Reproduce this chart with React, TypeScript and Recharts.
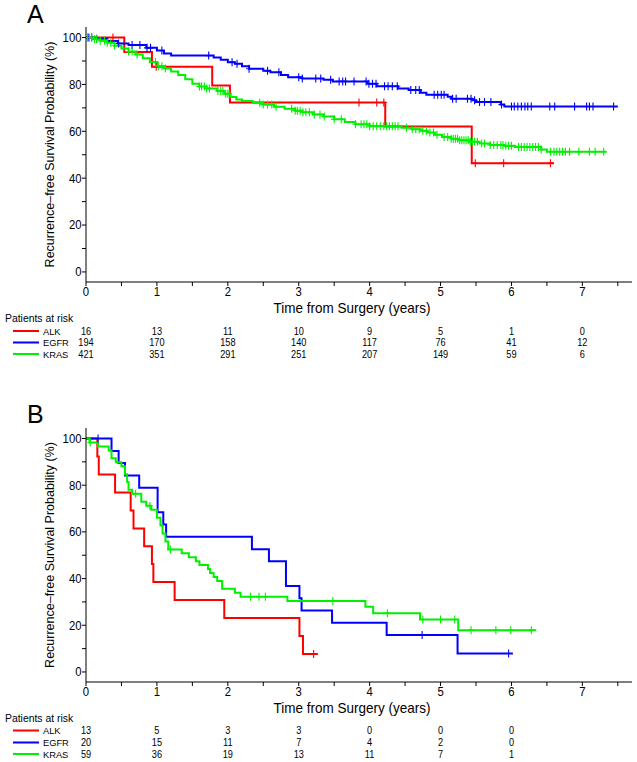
import React from 'react';
import { ComposedChart, Line, XAxis, YAxis, Customized } from 'recharts';

const RED = '#ff0000';
const BLUE = '#0000ff';
const GREEN = '#00f000';
const NARROW = "'Liberation Sans Narrow','Arial Narrow','Liberation Sans',Arial,sans-serif";
const SANS = "'Liberation Sans',Arial,Helvetica,sans-serif";

// ---------- tick labels ----------
const xTicks = [0, 0.5, 1, 1.5, 2, 2.5, 3, 3.5, 4, 4.5, 5, 5.5, 6, 6.5, 7, 7.5];
const yTicks = [0, 10, 20, 30, 40, 50, 60, 70, 80, 90, 100];
const groupNames = ['ALK', 'EGFR', 'KRAS'];

// ---------- Panel A: patients at risk (years 0..7) ----------
const alkRiskA = [16, 13, 11, 10, 9, 5, 1, 0];
const egfrRiskA = [194, 170, 158, 140, 117, 76, 41, 12];
const krasRiskA = [421, 351, 291, 251, 207, 149, 59, 6];

// ---------- Panel B: patients at risk (years 0..6) ----------
const alkRiskB = [13, 5, 3, 3, 0, 0, 0];
const egfrRiskB = [20, 15, 11, 7, 4, 2, 0];
const krasRiskB = [59, 36, 19, 13, 11, 7, 1];

// ---------- Panel A: KM steps [time, survival %] ----------
const alkStepsA: [number, number][] = [
  [0, 100], [0.54, 93.8], [0.93, 87.5], [1.78, 79.5], [2.03, 72.3], [4.22, 62.0], [5.44, 46.4], [6.6, 46.4],
];
const alkCensA = [0.38, 0.99, 3.85, 4.1, 4.2, 5.49, 5.89, 6.55];

const egfrStepsA: [number, number][] = [
  [0, 100], [0.12, 99.5], [0.3, 98.5], [0.45, 97.5], [0.6, 96.8], [0.85, 95.6], [1.0, 94.5], [1.1, 93.2],
  [1.2, 92.3], [1.8, 91.5], [1.9, 90.5], [2.0, 89.5], [2.1, 88.8], [2.2, 87.8], [2.3, 86.7], [2.5, 85.8],
  [2.6, 85.2], [2.75, 84.0], [2.85, 83.1], [3.05, 82.5], [3.35, 82.0], [3.48, 81.3], [3.97, 80.3],
  [4.1, 79.2], [4.4, 78.3], [4.55, 77.6], [4.72, 76.5], [4.8, 75.6], [5.1, 74.7], [5.15, 73.9],
  [5.45, 73.2], [5.5, 72.5], [5.85, 71.4], [5.9, 70.6], [7.5, 70.6],
];
const egfrCensA = [
  0.03, 0.08, 0.15, 0.46, 0.65, 0.76, 0.86, 0.91, 1.07, 1.73, 2.06, 2.13, 2.3, 2.56, 2.72, 3.0, 3.05,
  3.24, 3.31, 3.45, 3.57, 3.62, 3.66, 3.78, 3.95, 3.99, 4.04, 4.09, 4.21, 4.26, 4.32, 4.39, 4.58, 4.65,
  4.7, 4.91, 4.96, 5.01, 5.05, 5.17, 5.22, 5.38, 5.43, 5.48, 5.55, 5.62, 5.71, 5.86, 6.0, 6.04, 6.09,
  6.14, 6.19, 6.23, 6.28, 6.54, 6.61, 6.89, 7.06, 7.1, 7.15, 7.44,
];

const krasStepsA: [number, number][] = [
  [0, 100], [0.1, 99.4], [0.2, 98.6], [0.3, 97.8], [0.4, 96.5], [0.5, 95.3], [0.6, 94.0], [0.7, 92.8],
  [0.8, 91.2], [0.9, 89.6], [1.0, 87.8], [1.1, 86.8], [1.2, 85.5], [1.3, 84.0], [1.4, 82.2], [1.5, 80.3],
  [1.6, 79.1], [1.7, 78.3], [1.85, 77.2], [1.95, 76.0], [2.04, 74.6], [2.12, 73.6], [2.2, 72.9],
  [2.35, 72.2], [2.5, 71.4], [2.65, 70.5], [2.8, 69.6], [2.95, 68.8], [3.05, 68.1], [3.2, 67.2],
  [3.35, 66.3], [3.5, 65.1], [3.65, 64.0], [3.8, 63.0], [4.0, 62.2], [4.45, 61.5], [4.6, 60.9],
  [4.72, 60.2], [4.82, 59.5], [4.92, 58.5], [5.02, 57.6], [5.15, 56.8], [5.25, 56.2], [5.4, 55.5],
  [5.55, 54.8], [5.7, 54.2], [5.9, 53.8], [6.05, 53.3], [6.42, 52.2], [6.5, 51.3], [7.34, 51.3],
];
const krasCensA = [
  0.02, 0.05, 0.08, 0.12, 0.15, 0.2, 0.26, 0.3, 0.35, 0.4, 0.6, 0.65, 0.72, 0.98, 1.02, 1.07, 1.12,
  1.6, 1.63, 1.67, 1.7, 1.74, 1.86, 1.9, 1.93, 1.97, 2.0, 2.02, 2.45, 2.5, 2.56, 2.62, 2.68, 2.9, 2.95,
  2.98, 3.02, 3.06, 3.1, 3.15, 3.22, 3.3, 3.36, 3.5, 3.6, 3.8, 3.88, 3.92, 3.96, 4.0, 4.05, 4.1, 4.15,
  4.2, 4.24, 4.28, 4.32, 4.36, 4.4, 4.52, 4.6, 4.65, 4.7, 4.75, 4.8, 4.85, 4.9, 4.95, 5.05, 5.1, 5.15,
  5.18, 5.21, 5.24, 5.27, 5.3, 5.33, 5.36, 5.39, 5.42, 5.45, 5.48, 5.52, 5.58, 5.62, 5.7, 5.75, 5.8,
  5.85, 5.88, 5.92, 5.96, 6.0, 6.1, 6.14, 6.18, 6.22, 6.26, 6.3, 6.34, 6.38, 6.42, 6.55, 6.6, 6.64,
  6.68, 6.72, 6.76, 6.82, 6.95, 7.1, 7.18, 7.3,
];

// ---------- Panel B: KM steps ----------
const alkStepsB: [number, number][] = [
  [0, 100], [0.16, 92.3], [0.18, 84.6], [0.41, 76.9], [0.63, 69.2], [0.67, 61.5], [0.82, 53.8],
  [0.93, 46.2], [0.95, 38.5], [1.25, 30.8], [1.95, 23.1], [3.01, 15.4], [3.06, 7.7], [3.27, 7.7],
];
const alkCensB = [3.21];

const egfrStepsB: [number, number][] = [
  [0, 100], [0.36, 94.7], [0.46, 89.5], [0.55, 84.2], [0.75, 78.9], [1.01, 68.4], [1.09, 63.2],
  [1.13, 57.9], [2.34, 52.6], [2.58, 47.4], [2.82, 36.8], [3.01, 31.6], [3.04, 26.3], [3.47, 21.1],
  [4.24, 15.8], [5.24, 7.9], [6.02, 7.9],
];
const egfrCensB = [0.17, 4.74, 5.96];

const krasStepsB: [number, number][] = [
  [0, 100], [0.05, 98.3], [0.17, 96.6], [0.32, 94.9], [0.36, 91.5], [0.42, 89.8], [0.5, 88.1],
  [0.55, 84.7], [0.58, 81.4], [0.6, 78.0], [0.65, 76.3], [0.78, 72.9], [0.85, 71.2], [0.92, 69.5],
  [1.0, 66.1], [1.05, 62.7], [1.08, 59.3], [1.12, 55.9], [1.16, 52.5], [1.35, 50.8], [1.45, 49.1],
  [1.55, 47.4], [1.6, 45.8], [1.72, 44.1], [1.75, 42.4], [1.8, 40.7], [1.85, 39.0], [1.92, 35.6],
  [2.1, 33.9], [2.18, 32.2], [2.84, 30.4], [3.94, 27.9], [4.05, 25.2], [4.71, 22.5], [5.25, 17.9],
  [6.35, 17.9],
];
const krasCensB = [0.06, 0.7, 0.9, 1.19, 2.32, 2.44, 2.53, 3.48, 4.25, 4.75, 5.0, 5.2, 5.43, 5.78, 5.99, 6.28];

// ---------- helpers ----------
type Pt = { t: number; s: number };
const toPts = (steps: [number, number][]): Pt[] => steps.map(([t, s]) => ({ t, s }));
const survAt = (steps: [number, number][], t: number) => {
  let s = steps[0][1];
  for (const [ti, si] of steps) if (ti <= t) s = si;
  return s;
};
const censPts = (steps: [number, number][], times: number[]): Pt[] =>
  times.map((t) => ({ t, s: survAt(steps, t) }));

const makePlus = (color: string) => (p: any) => {
  const { cx, cy, index } = p;
  if (cx == null || cy == null) return <g key={`n${index}`} />;
  return (
    <path
      key={`c${index}`}
      d={`M${cx - 3},${cy}H${cx + 3}M${cx},${cy - 4}V${cy + 4}`}
      stroke={color}
      strokeWidth={1.1}
      fill="none"
    />
  );
};

// condensed text (narrow look) via horizontal scaling
const CText = ({ x, y, anchor, size, sx, children }: any) => (
  <text
    transform={`translate(${x},${y}) scale(${sx},1)`}
    x={0}
    y={0}
    textAnchor={anchor}
    dominantBaseline="central"
    fontFamily={NARROW}
    fontSize={size}
    fill="#000"
  >
    {children}
  </text>
);

const YTick = (p: any) => {
  const { x, y, payload } = p;
  const v = payload.value;
  const major = v % 20 === 0;
  return (
    <g>
      <line x1={x - 4} x2={x} y1={y} y2={y} stroke="#000" strokeWidth={1} />
      {major && <CText x={x - 4.5} y={y} anchor="end" size={13.5} sx={0.84}>{v}</CText>}
    </g>
  );
};

const makeXTick = (risks: number[][], rowOffsets: number[]) => (p: any) => {
  const { x, y, payload } = p;
  const v = payload.value;
  const major = Number.isInteger(v);
  return (
    <g>
      <line x1={x} x2={x} y1={y} y2={y + 4} stroke="#000" strokeWidth={1} />
      {major && <CText x={x} y={y + 10} anchor="middle" size={13.5} sx={0.84}>{v}</CText>}
      {major &&
        risks.map((row, i) =>
          v < row.length ? (
            <CText key={i} x={x} y={y + rowOffsets[i]} anchor="middle" size={10} sx={0.92}>
              {row[v]}
            </CText>
          ) : null
        )}
    </g>
  );
};

type Series = { steps: [number, number][]; cens: number[]; color: string };

const Panel = ({
  letter, height, plotTop, plotBottom, letterY, series, risks, rowOffsets,
}: {
  letter: string; height: number; plotTop: number; plotBottom: number; letterY: number;
  series: Series[]; risks: number[][]; rowOffsets: number[];
}) => {
  const colors = [RED, BLUE, GREEN];
  const Static = () => (
    <g>
      <text x={27} y={letterY} fontFamily={SANS} fontSize={25} fill="#000">{letter}</text>
      <text
        x={50}
        y={(plotTop + plotBottom) / 2}
        transform={`rotate(-90 50 ${(plotTop + plotBottom) / 2})`}
        textAnchor="middle"
        dominantBaseline="central"
        fontFamily={SANS}
        fontSize={12.5}
        fill="#000"
      >
        Recurrence–free Survival Probability (%)
      </text>
      <CText x={352} y={plotBottom + 26} anchor="middle" size={15} sx={0.9}>
        Time from Surgery (years)
      </CText>
      <CText x={5} y={plotBottom + 37} anchor="start" size={10} sx={1.04}>
        Patients at risk
      </CText>
      {groupNames.map((g, i) => (
        <g key={g}>
          <line x1={13} x2={39} y1={plotBottom + rowOffsets[i]} y2={plotBottom + rowOffsets[i]} stroke={colors[i]} strokeWidth={2} />
          <CText x={43} y={plotBottom + rowOffsets[i]} anchor="start" size={9.5} sx={0.98}>
            {g}
          </CText>
        </g>
      ))}
    </g>
  );
  return (
    <ComposedChart
      width={637}
      height={height}
      margin={{ top: plotTop, right: 5, bottom: 0, left: 0 }}
    >
      <XAxis
        type="number"
        dataKey="t"
        domain={[0, 7.7]}
        ticks={xTicks}
        interval={0}
        allowDataOverflow
        height={height - plotBottom}
        tickSize={0}
        tickMargin={0}
        axisLine={{ stroke: '#000', strokeWidth: 1 }}
        tick={makeXTick(risks, rowOffsets)}
      />
      <YAxis
        type="number"
        domain={[-4.3, 104.5]}
        ticks={yTicks}
        interval={0}
        allowDataOverflow
        width={86}
        tickSize={0}
        tickMargin={0}
        axisLine={{ stroke: '#000', strokeWidth: 1 }}
        tick={YTick}
      />
      {series.map((s, i) => (
        <Line
          key={`l${i}`}
          data={toPts(s.steps)}
          dataKey="s"
          type="stepAfter"
          stroke={s.color}
          strokeWidth={2}
          dot={false}
          activeDot={false}
          isAnimationActive={false}
        />
      ))}
      {series.map((s, i) => (
        <Line
          key={`c${i}`}
          data={censPts(s.steps, s.cens)}
          dataKey="s"
          stroke="none"
          dot={makePlus(s.color)}
          activeDot={false}
          isAnimationActive={false}
        />
      ))}
      <Customized component={Static} />
    </ComposedChart>
  );
};

export default function App() {
  return (
    <div style={{ position: 'absolute', left: 0, top: 0, width: 637, height: 762, background: '#fff' }}>
      <div style={{ position: 'absolute', left: 0, top: 0 }}>
        <Panel
          letter="A"
          height={390}
          plotTop={27}
          plotBottom={282}
          letterY={23}
          risks={[alkRiskA, egfrRiskA, krasRiskA]}
          rowOffsets={[49, 60.5, 72]}
          series={[
            { steps: alkStepsA, cens: alkCensA, color: RED },
            { steps: egfrStepsA, cens: egfrCensA, color: BLUE },
            { steps: krasStepsA, cens: krasCensA, color: GREEN },
          ]}
        />
      </div>
      <div style={{ position: 'absolute', left: 0, top: 390 }}>
        <Panel
          letter="B"
          height={372}
          plotTop={38}
          plotBottom={292}
          letterY={33}
          risks={[alkRiskB, egfrRiskB, krasRiskB]}
          rowOffsets={[48.5, 60.5, 72]}
          series={[
            { steps: alkStepsB, cens: alkCensB, color: RED },
            { steps: egfrStepsB, cens: egfrCensB, color: BLUE },
            { steps: krasStepsB, cens: krasCensB, color: GREEN },
          ]}
        />
      </div>
    </div>
  );
}
